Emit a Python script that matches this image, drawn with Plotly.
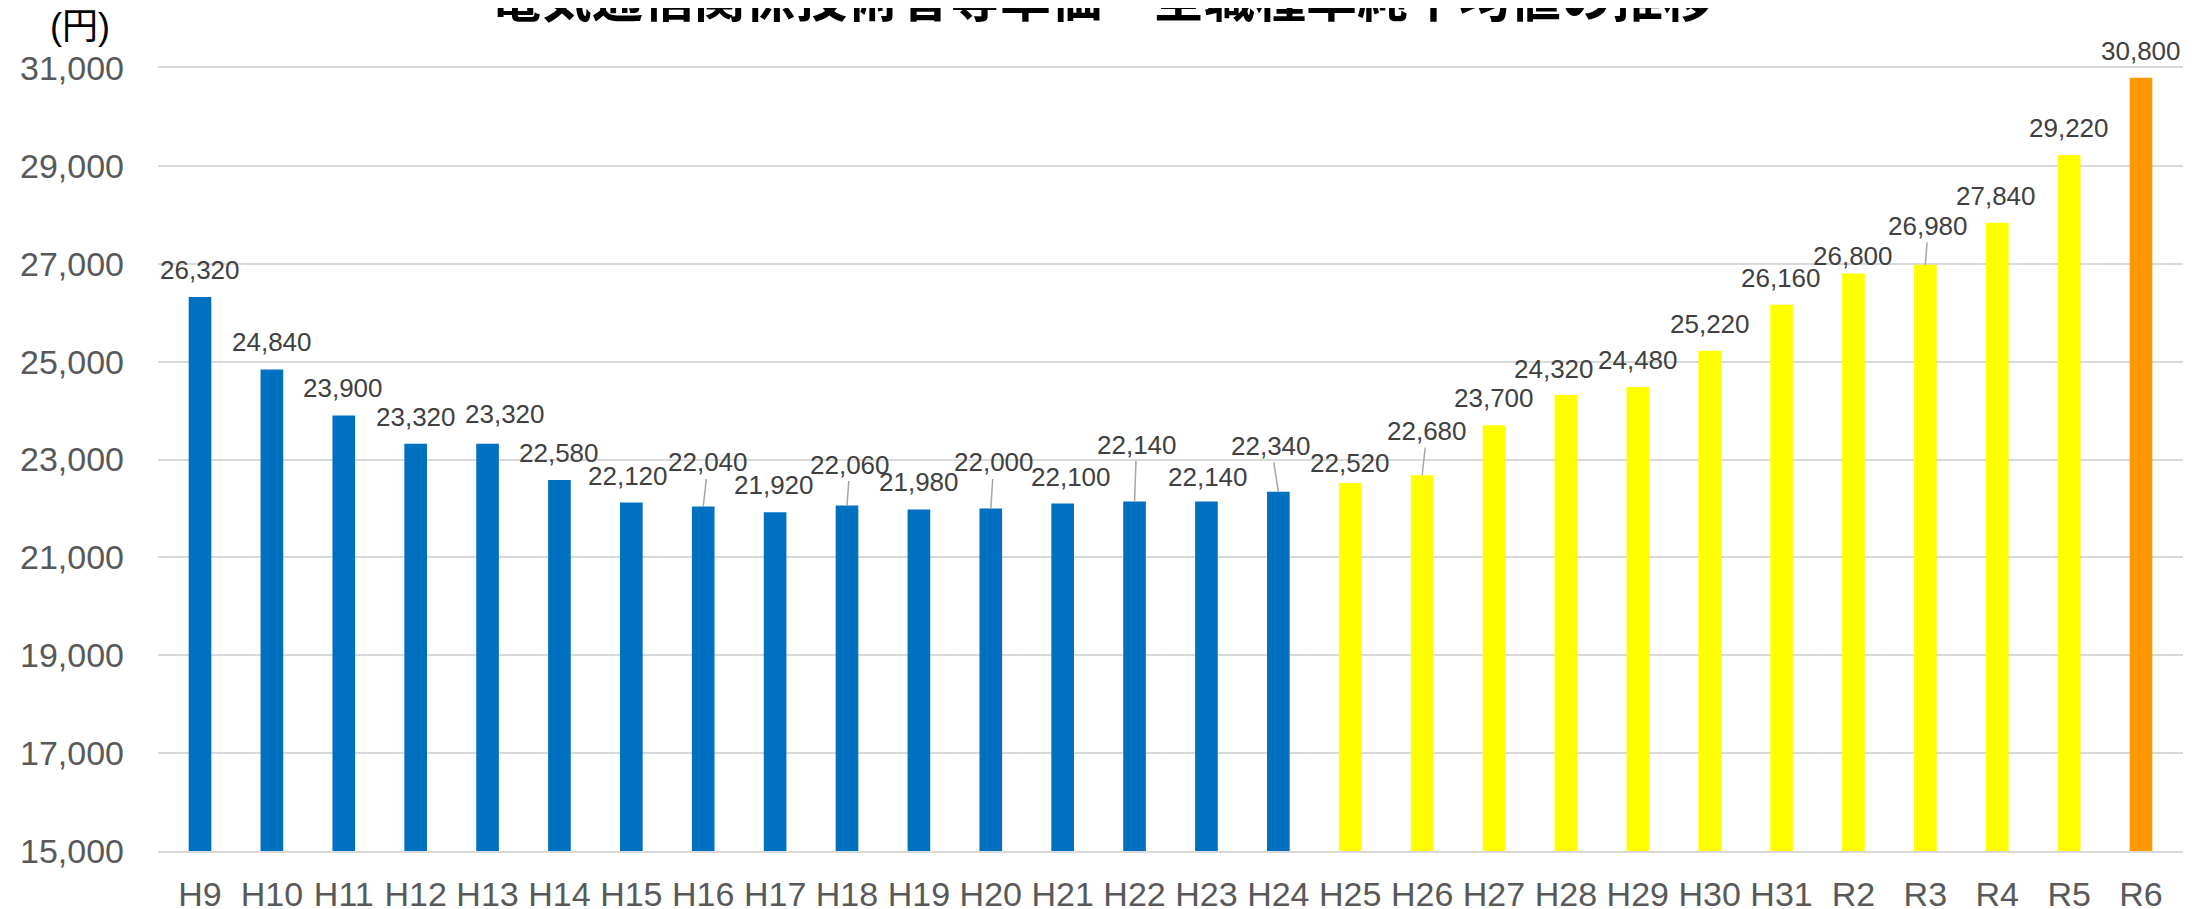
import plotly.graph_objects as go

# ---- data ----
categories = ["H9", "H10", "H11", "H12", "H13", "H14", "H15", "H16", "H17", "H18",
              "H19", "H20", "H21", "H22", "H23", "H24", "H25", "H26", "H27", "H28",
              "H29", "H30", "H31", "R2", "R3", "R4", "R5", "R6"]
values = [26320, 24840, 23900, 23320, 23320, 22580, 22120, 22040, 21920, 22060,
          21980, 22000, 22100, 22140, 22140, 22340, 22520, 22680, 23700, 24320,
          24480, 25220, 26160, 26800, 26980, 27840, 29220, 30800]
y_ticks = [15000, 17000, 19000, 21000, 23000, 25000, 27000, 29000, 31000]
title_text = "電気通信関係技術者等単価　全職種単純平均値の推移"
unit_text = "(円)"

# ---- styles ----
BLUE, YELLOW, ORANGE = "#0070C0", "#FFFF00", "#FF9900"
bar_colors = [BLUE] * 16 + [YELLOW] * 11 + [ORANGE]

# label offsets in pixels: (dx, dy above bar top, leader line?)
label_offsets = [
    (0, 27, False), (0, 27, False), (-1, 27, False), (0, 27, False), (17, 30, False),
    (0, 27, False), (-3, 27, False), (5, 44, True), (-1, 27, False), (3, 41, True),
    (0, 27, False), (3, 46, True), (8, 27, False), (2, 57, True), (2, 25, False),
    (-7, 46, True), (0, 20, False), (5, 44, True), (0, 27, False), (-12, 26, False),
    (0, 27, False), (0, 27, False), (-1, 27, False), (0, 18, False), (3, 39, True),
    (-1, 27, False), (0, 27, False), (0, 27, False),
]

LABEL_FONT = dict(family="Liberation Sans, Arial, sans-serif", size=26, color="#404040")
TICK_FONT = dict(family="Liberation Sans, Arial, sans-serif", size=34, color="#595959")

fig = go.Figure()
fig.add_trace(go.Bar(
    x=categories, y=values,
    marker=dict(color=bar_colors, line=dict(width=0)),
    width=0.315,
    hoverinfo="skip",
))

annotations = []
for cat, val, (dx, dy, leader) in zip(categories, values, label_offsets):
    txt = f"{val:,}"
    if leader:
        annotations.append(dict(
            x=cat, y=val, xref="x", yref="y", text=txt, font=LABEL_FONT,
            showarrow=True, arrowhead=0, arrowwidth=1.5, arrowcolor="#A6A6A6",
            ax=dx, ay=-dy, standoff=0, startstandoff=0,
            xanchor="center", yanchor="middle",
        ))
    else:
        annotations.append(dict(
            x=cat, y=val, xref="x", yref="y", text=txt, font=LABEL_FONT,
            showarrow=False, xshift=dx, yshift=dy,
            xanchor="center", yanchor="middle",
        ))

# unit label
annotations.append(dict(
    x=-0.0385, y=1.053, xref="paper", yref="paper", text=unit_text,
    showarrow=False, xanchor="center", yanchor="middle",
    font=dict(family="Liberation Sans, Noto Sans CJK JP, sans-serif", size=36, color="#000000"),
))
# title (partly above the top edge, as in the reference)
annotations.append(dict(
    x=0.4662, y=1.0932, xref="paper", yref="paper", text=f"<b>{title_text}</b>",
    showarrow=False, xanchor="center", yanchor="middle",
    font=dict(family="Noto Sans CJK JP", size=51, color="#000000"),
))

fig.update_layout(
    width=2196, height=909,
    margin=dict(l=150, r=21, t=60, b=66, autoexpand=False),
    paper_bgcolor="white", plot_bgcolor="white",
    showlegend=False,
    annotations=annotations,
    xaxis=dict(
        type="category", tickfont=TICK_FONT, showgrid=False, ticks="",
        showline=True, linecolor="#D9D9D9", linewidth=1.5, mirror=True,
        ticklabelstandoff=12, zeroline=False, automargin=False,
    ),
    yaxis=dict(
        range=[15000, 31000], tickvals=y_ticks, ticktext=[f"{v:,}" for v in y_ticks],
        tickfont=TICK_FONT, showgrid=True, gridcolor="#D9D9D9", gridwidth=1.5,
        ticks="", zeroline=False, showline=False, ticklabelstandoff=33, automargin=False,
    ),
    bargap=0.685,
)

fig.write_html("out.html")
